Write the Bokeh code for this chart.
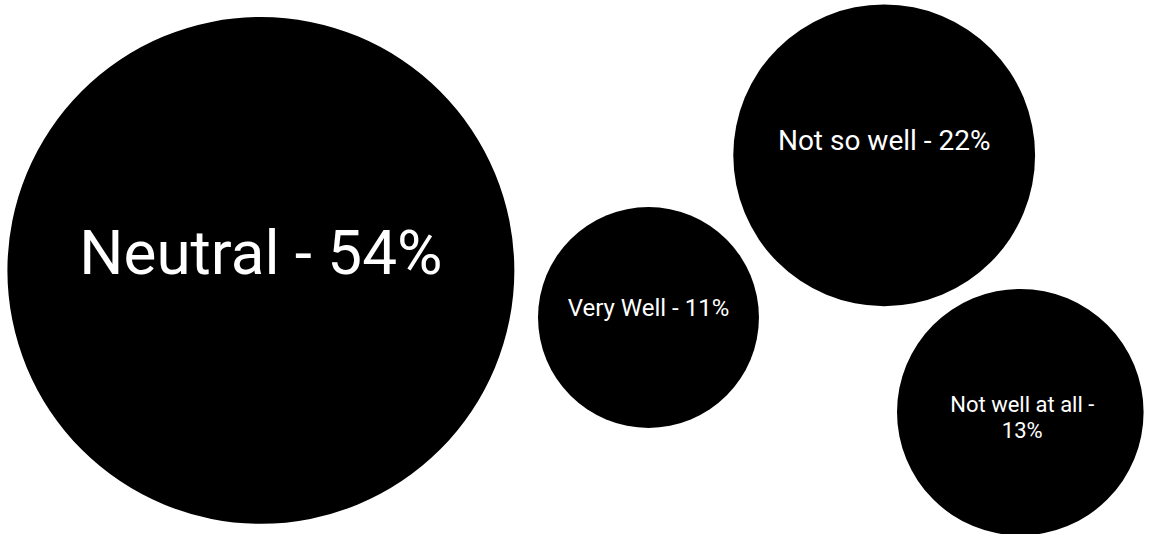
from bokeh.plotting import figure
from bokeh.models import ColumnDataSource, Range1d
from bokeh.core.properties import value
from bokeh.embed import file_html
from bokeh.resources import INLINE

# --- data ---
categories = ["Neutral", "Very Well", "Not so well", "Not well at all"]
percents = [54, 11, 22, 13]

# --- bubble pack layout (reference pixel space 1165 x 550) ---
bubble_x = [264, 657, 896, 1034]
bubble_y = [278, 326.5, 159.5, 424]
bubble_r = [257, 112, 153, 125]

# --- label styling ---
label_sizes = ["62px", "24px", "28px", "22px"]
label_dy = [-18, -9.5, -15, 5]
label_dx = [0, 0, 0, 2]


def make_label(cat, pct):
    txt = f"{cat} - {pct}%"
    if len(txt) > 18:
        txt = f"{cat} -\n{pct}%"
    return txt


labels = [make_label(c, v) for c, v in zip(categories, percents)]

src = ColumnDataSource(dict(
    x=bubble_x, y=bubble_y, r=bubble_r, label=labels,
    size=label_sizes, dy=label_dy, dx=label_dx,
))

W, H = 1149, 534
p = figure(width=W, height=H, output_backend="svg", toolbar_location=None,
           x_range=Range1d(0, 1165), y_range=Range1d(550, 0),
           x_axis_location=None, y_axis_location=None,
           min_border=0, background_fill_color="white",
           border_fill_color="white")
p.outline_line_color = None
p.grid.visible = False

p.circle(x="x", y="y", radius="r", source=src, fill_color="black",
         line_color=None)
p.text(x="x", y="y", text="label", source=src, text_color="white",
       text_font=value("Roboto"), text_font_size="size",
       text_align="center", text_baseline="middle",
       x_offset="dx", y_offset="dy", text_line_height=1.05)

open("out.html", "w").write(file_html(p, INLINE))
